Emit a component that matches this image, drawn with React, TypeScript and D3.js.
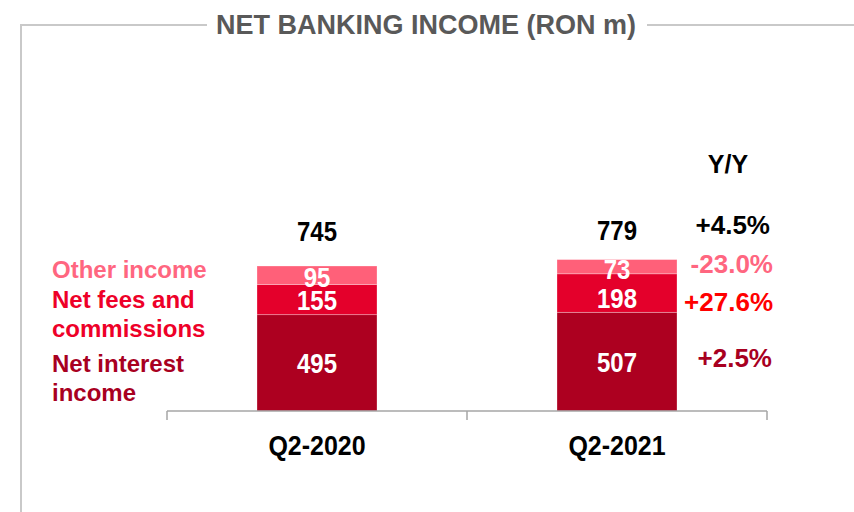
import React from "react";
import * as d3 from "d3";

const categories = ["Q2-2020", "Q2-2021"];
const netInterest = [495, 507];
const netFees = [155, 198];
const otherIncome = [95, 73];
const totals = [745, 779];
const seriesNames = ["Net interest income", "Net fees and commissions", "Other income"];
const legendLines = [["Other income"], ["Net fees and", "commissions"], ["Net interest", "income"]];
const yoyHeader = "Y/Y";
const yoyTotal = "+4.5%";
const yoyOther = "-23.0%";
const yoyFees = "+27.6%";
const yoyInterest = "+2.5%";
const title = "NET BANKING INCOME (RON m)";

const W = 854;
const H = 512;
const FONT = "'Liberation Sans', Arial, Helvetica, sans-serif";
const COLORS = { interest: "#AD0020", fees: "#E4002B", other: "#FF6079" };
const TEXT_COLORS = { interest: "#A8001F", fees: "#EE0028", other: "#FF6680", feesYoy: "#FF0000" };

export default function App() {
  const rows = categories.map((c, i) => ({
    cat: c,
    interest: netInterest[i],
    fees: netFees[i],
    other: otherIncome[i],
  }));
  const keys = ["interest", "fees", "other"];
  const stack = d3.stack<any>().keys(keys)(rows);

  const x = d3.scaleBand().domain(categories).range([167, 767]).paddingInner(0.6).paddingOuter(0.3);
  const y = d3.scaleLinear().domain([0, 800]).range([411, 411 - 155.7]);
  const step = x.step();
  const bw = x.bandwidth();
  const tickXs = [x.range()[0], ...categories.slice(1).map((c) => (x(c) as number) - (step - bw) / 2), x.range()[1]];

  const numStyle = { fontFamily: FONT, fontWeight: 700 } as const;

  return (
    <svg width={W} height={H} style={{ position: "absolute", left: 0, top: 0, background: "#fff" }}>
      <rect x={0} y={0} width={W} height={H} fill="#fff" />
      {/* frame */}
      <line x1={21} y1={25} x2={207} y2={25} stroke="#c9c9c9" strokeWidth={2} />
      <line x1={647} y1={25} x2={854} y2={25} stroke="#c9c9c9" strokeWidth={2} />
      <line x1={21} y1={24} x2={21} y2={H} stroke="#c9c9c9" strokeWidth={2} />
      <text x={426} y={34} textAnchor="middle" fill="#595959" fontSize={27} {...numStyle}>
        {title}
      </text>

      {/* bars */}
      {stack.map((s) =>
        s.map((d, i) => (
          <rect
            key={s.key + i}
            x={x(categories[i])}
            y={y(d[1])}
            width={bw}
            height={y(d[0]) - y(d[1])}
            fill={(COLORS as any)[s.key]}
            stroke="rgba(255,255,255,0.35)"
            strokeWidth={0.8}
          />
        ))
      )}
      {stack.map((s) =>
        s.map((d, i) => {
          const cx = (x(categories[i]) as number) + bw / 2;
          const cy = (y(d[0]) + y(d[1])) / 2;
          const v = d[1] - d[0];
          const off = s.key === "other" ? 12 : s.key === "fees" && i === 1 ? 15 : 10;
          return (
            <text
              key={"l" + s.key + i}
              transform={`translate(${cx},${cy + off}) scale(1,1.15)`}
              textAnchor="middle"
              fill="#fff"
              fontSize={24}
              {...numStyle}
            >
              {v}
            </text>
          );
        })
      )}
      {/* totals */}
      {totals.map((t, i) => {
        const cx = (x(categories[i]) as number) + bw / 2;
        return (
          <text
            key={"t" + i}
            transform={`translate(${cx},${241 - i}) scale(1,1.12)`}
            textAnchor="middle"
            fill="#000"
            fontSize={24}
            {...numStyle}
          >
            {t}
          </text>
        );
      })}

      {/* axis */}
      <line x1={x.range()[0]} y1={411} x2={x.range()[1]} y2={411} stroke="#a6a6a6" strokeWidth={1.5} />
      {tickXs.map((tx, i) => (
        <line key={"tk" + i} x1={tx} y1={411} x2={tx} y2={420} stroke="#a6a6a6" strokeWidth={1.5} />
      ))}
      {categories.map((c) => (
        <text
          key={"c" + c}
          transform={`translate(${(x(c) as number) + bw / 2},455) scale(1,1.12)`}
          textAnchor="middle"
          fill="#000"
          fontSize={25}
          {...numStyle}
        >
          {c}
        </text>
      ))}

      {/* legend */}
      <g fontSize={24} {...numStyle}>
        <text x={52} y={278} fill={TEXT_COLORS.other}>{legendLines[0][0]}</text>
        <text x={52} y={308} fill={TEXT_COLORS.fees}>{legendLines[1][0]}</text>
        <text x={52} y={337} fill={TEXT_COLORS.fees}>{legendLines[1][1]}</text>
        <text x={52} y={372} fill={TEXT_COLORS.interest}>{legendLines[2][0]}</text>
        <text x={52} y={401} fill={TEXT_COLORS.interest}>{legendLines[2][1]}</text>
      </g>

      {/* Y/Y */}
      <g fontSize={26} {...numStyle}>
        <text x={728} y={173} textAnchor="middle" fill="#000" fontSize={25}>{yoyHeader}</text>
        <text x={770} y={234} textAnchor="end" fill="#000">{yoyTotal}</text>
        <text x={773} y={273} textAnchor="end" fill={TEXT_COLORS.other}>{yoyOther}</text>
        <text x={773} y={311} textAnchor="end" fill={TEXT_COLORS.feesYoy}>{yoyFees}</text>
        <text x={772} y={367} textAnchor="end" fill={TEXT_COLORS.interest}>{yoyInterest}</text>
      </g>
      <title>{seriesNames.join(", ")}</title>
    </svg>
  );
}
